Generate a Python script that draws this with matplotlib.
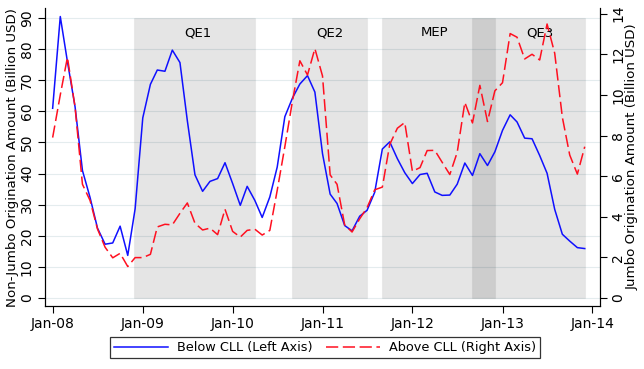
import numpy as np
import pandas as pd
import matplotlib
matplotlib.use("Agg")
import matplotlib.pyplot as plt
import matplotlib.dates as mdates

# monthly data, Jan-08 .. Dec-13
months = pd.date_range("2008-01-01", periods=72, freq="MS")

# below CLL (non-jumbo), billion USD, left axis
below_cll = [61, 90.5, 76, 61.5, 41, 32.3, 22.5, 17.3, 17.7, 23.1, 13.7, 28.7,
             57.9, 68.7, 73.3, 72.9, 79.7, 75.7, 57, 39.6, 34.3, 37.5, 38.4, 43.5,
             36.8, 29.8, 35.9, 31.4, 25.9, 32.5, 42.1, 58.3, 64.3, 68.8, 71.5, 66.2,
             46.4, 33.4, 30.4, 23.3, 21.6, 26.3, 28.2, 34.0, 47.9, 50.2, 44.8, 40.3,
             36.8, 39.7, 40.1, 34.1, 33.0, 33.1, 36.6, 43.4, 39.4, 46.4, 42.6, 47.0,
             53.9, 58.9, 56.6, 51.4, 51.2, 45.8, 40.1, 28.5, 20.5, 18.3, 16.2, 15.9]

# above CLL (jumbo), billion USD, right axis
above_cll = [7.9, 10.0, 11.85, 9.4, 5.6, 4.8, 3.4, 2.5, 1.98, 2.2, 1.55, 1.99,
             1.99, 2.15, 3.5, 3.63, 3.6, 4.17, 4.68, 3.68, 3.35, 3.44, 3.12, 4.37,
             3.28, 3.0, 3.33, 3.39, 3.1, 3.33, 5.3, 7.45, 9.7, 11.68, 10.98, 12.28,
             10.93, 6.06, 5.6, 3.6, 3.25, 3.9, 4.45, 5.33, 5.46, 7.56, 8.36, 8.64,
             6.24, 6.42, 7.26, 7.27, 6.68, 6.08, 7.17, 9.63, 8.62, 10.47, 8.69, 10.2,
             10.6, 13.02, 12.84, 11.77, 12.0, 11.72, 13.49, 12.05, 8.9, 7.04, 6.1, 7.45]

# policy periods
periods = [("QE1", "2008-11-25", "2010-03-31", "2009-08-12"),
           ("QE2", "2010-09-01", "2011-06-30", "2011-01-29"),
           ("MEP", "2011-09-01", "2012-12-01", "2012-04-01"),
           ("QE3", "2012-09-01", "2013-12-01", "2013-06-01")]

left_max = 93.2
left_min = -2.57
scale = 6.53

fig = plt.figure(figsize=(6.44, 3.69), dpi=100)
ax = fig.add_axes([0.0699, 0.1707, 0.8618, 0.8073])
ax2 = ax.twinx()

for name, start, end, mid in periods:
    ax.fill_between([pd.Timestamp(start), pd.Timestamp(end)], 0, 90,
                    facecolor=(0, 0, 0, 0.1), edgecolor=(0, 0, 0, 0.04),
                    lw=0.8, zorder=1)
    ax.text(pd.Timestamp(mid), 85.3, name, ha="center", va="center",
            fontsize=9.5, zorder=5)

l1, = ax.plot(months, below_cll, color="#1010ff", lw=1.1, zorder=3,
              label="Below CLL (Left Axis)")
l2, = ax2.plot(months, above_cll, color="#ff1020", lw=1.1,
               dashes=(8, 3), label="Above CLL (Right Axis)")

ax.set_xlim(pd.Timestamp("2007-12-01"), pd.Timestamp("2014-02-01"))
ax.set_ylim(left_min, left_max)
ax2.set_ylim(left_min / scale, left_max / scale)

ax.set_yticks(np.arange(0, 91, 10))
ax2.set_yticks(np.arange(0, 15, 2))
ax.yaxis.grid(True, color="#e4ecee", lw=0.8, zorder=0)
ax.set_axisbelow(True)

ax.xaxis.set_major_locator(mdates.YearLocator())
ax.xaxis.set_major_formatter(mdates.DateFormatter("%b-%y"))

for a in (ax, ax2):
    a.spines["top"].set_visible(False)
    a.tick_params(labelsize=10, length=5, width=0.8, pad=3)
ax.tick_params(axis="y", labelrotation=90)
ax2.tick_params(axis="y", labelrotation=90)
for lab in ax.get_yticklabels() + ax2.get_yticklabels():
    lab.set_va("center")

ax.set_ylabel("Non-Jumbo Origination Amount (Billion USD)", fontsize=9.6, labelpad=1)
ax2.set_ylabel("Jumbo Origination Amount (Billion USD)", fontsize=9.6, labelpad=0)
ax2.yaxis.label.set_rotation(90)

leg = fig.legend([l1, l2], [l1.get_label(), l2.get_label()], loc="center",
                 bbox_to_anchor=(0.505, 0.058), ncol=2, fontsize=9.3,
                 frameon=True, fancybox=False, edgecolor="k", handlelength=4.2,
                 borderpad=0.3, columnspacing=1.0, handletextpad=0.7)
leg.get_frame().set_linewidth(0.9)

fig.savefig("out.png", dpi=100)
